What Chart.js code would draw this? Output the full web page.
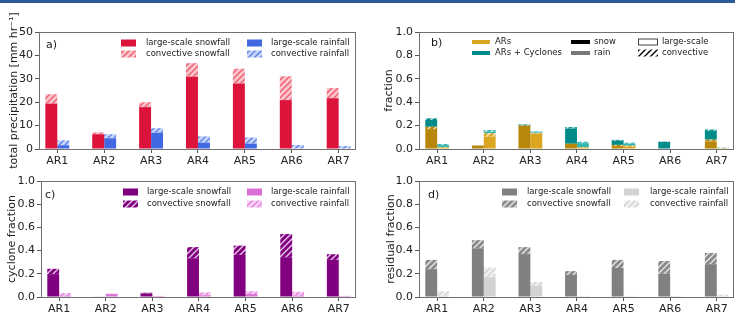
<!DOCTYPE html>
<html>
<head>
<meta charset="utf-8">
<script src="https://cdn.jsdelivr.net/npm/chart.js@4/dist/chart.umd.min.js"></script>
<style>
  body { margin: 0; background: #fff; width: 735px; height: 324px; overflow: hidden; position: relative; }
  #band { position: absolute; left: 0; top: 0; width: 735px; height: 3px; background: #2b5a94; }
  canvas { position: absolute; }
</style>
</head>
<body>
<div id="band"></div>
<canvas id="ca" width="365" height="170" style="left:0;top:0"></canvas>
<canvas id="cb" width="370" height="170" style="left:365px;top:0"></canvas>
<canvas id="cc" width="365" height="159" style="left:0;top:165px"></canvas>
<canvas id="cd" width="370" height="159" style="left:365px;top:165px"></canvas>
<script>
const categories = ['AR1', 'AR2', 'AR3', 'AR4', 'AR5', 'AR6', 'AR7'];

// a) total precipitation [mm/hr], stacked pieces
const totLsSnow = [19.4, 6.3, 17.9, 30.9, 28.0, 20.9, 21.7];
const totCvSnow = [4.0, 0.8, 2.1, 5.8, 6.3, 10.2, 4.4];
const totLsRain = [1.6, 4.6, 7.0, 2.7, 2.3, 0.0, 0.0];
const totCvRain = [2.1, 1.7, 1.9, 2.7, 2.6, 1.7, 1.3];

// b) fraction, ARs and ARs + cyclones (pieces stacked in that order)
const arLsSnow = [0.170, 0.030, 0.200, 0.045, 0.025, 0.000, 0.065];
const arCvSnow = [0.020, 0.000, 0.000, 0.000, 0.010, 0.000, 0.015];
const cyLsSnow = [0.058, 0.000, 0.000, 0.130, 0.035, 0.060, 0.075];
const cyCvSnow = [0.014, 0.000, 0.010, 0.012, 0.008, 0.003, 0.012];
const arLsRain = [0.010, 0.106, 0.130, 0.012, 0.018, 0.000, 0.004];
const arCvRain = [0.005, 0.028, 0.005, 0.003, 0.010, 0.000, 0.004];
const cyLsRain = [0.018, 0.013, 0.006, 0.035, 0.016, 0.000, 0.000];
const cyCvRain = [0.010, 0.015, 0.010, 0.012, 0.010, 0.000, 0.004];

// c) cyclone fraction
const cycLsSnow = [0.197, 0.005, 0.030, 0.334, 0.363, 0.343, 0.320];
const cycCvSnow = [0.046, 0.000, 0.007, 0.096, 0.080, 0.200, 0.049];
const cycLsRain = [0.012, 0.025, 0.008, 0.015, 0.025, 0.012, 0.008];
const cycCvRain = [0.022, 0.005, 0.002, 0.025, 0.025, 0.033, 0.002];

// d) residual fraction
const resLsSnow = [0.240, 0.420, 0.370, 0.190, 0.250, 0.200, 0.283];
const resCvSnow = [0.080, 0.070, 0.060, 0.033, 0.070, 0.110, 0.097];
const resLsRain = [0.012, 0.170, 0.100, 0.004, 0.004, 0.002, 0.008];
const resCvRain = [0.038, 0.084, 0.030, 0.006, 0.006, 0.003, 0.012];

Chart.defaults.font.family = '"DejaVu Sans", sans-serif';
Chart.defaults.color = '#222';

function hatch(base, line) {
    const c = document.createElement('canvas');
    c.width = 6; c.height = 6;
    const g = c.getContext('2d');
    g.fillStyle = base;
    g.fillRect(0, 0, 6, 6);
    g.strokeStyle = line;
    g.lineWidth = 1.4;
    g.beginPath();
    g.moveTo(-1, 7); g.lineTo(7, -1);
    g.moveTo(-4, 4); g.lineTo(4, -4);
    g.moveTo(2, 10); g.lineTo(10, 2);
    g.stroke();
    return g.createPattern(c, 'repeat');
}

function pts(arr) {
    return arr.map((v, i) => ({ x: i, y: v }));
}

function ds(label, arr, color, stack) {
    return { label: label, data: pts(arr), backgroundColor: color, stack: stack, borderWidth: 0 };
}

// axes box + hand drawn legend (matplotlib style, inside the axes)
const decor = {
    id: 'decor',
    afterDatasetsDraw(chart) {
        const ctx = chart.ctx, a = chart.chartArea;
        ctx.save();
        ctx.strokeStyle = '#707070';
        ctx.lineWidth = 1;
        ctx.strokeRect(Math.round(a.left) + 0.5, Math.round(a.top) + 0.5,
            Math.round(a.right - a.left) - 1, Math.round(a.bottom - a.top));
        ctx.restore();
    },
    afterDraw(chart, args, opts) {
        const ctx = chart.ctx;
        ctx.save();
        ctx.textBaseline = 'middle';
        ctx.fillStyle = '#1a1a1a';
        ctx.font = '11px "DejaVu Sans"';
        ctx.fillText(opts.tag, opts.tagX, opts.tagY);
        ctx.font = '8.5px "DejaVu Sans"';
        (opts.items || []).forEach(it => {
            if (it.kind === 'line') {
                ctx.fillStyle = it.fill;
                ctx.fillRect(it.x, it.y - 2, it.w, 4);
            } else {
                ctx.fillStyle = it.fill;
                ctx.fillRect(it.x, it.y - 3.5, it.w, 7);
                if (it.stroke) {
                    ctx.strokeStyle = it.stroke;
                    ctx.lineWidth = 1;
                    ctx.strokeRect(it.x + 0.5, it.y - 3, it.w - 1, 6);
                }
            }
            ctx.fillStyle = '#1a1a1a';
            ctx.fillText(it.text, it.tx, it.y);
        });
        ctx.restore();
    }
};

function makeChart(id, datasets, cfg) {
    return new Chart(document.getElementById(id), {
        type: 'bar',
        data: { datasets: datasets },
        plugins: [decor],
        options: {
            responsive: false,
            animation: false,
            categoryPercentage: 0.51,
            barPercentage: 1,
            layout: { padding: { top: cfg.top, right: cfg.right, left: 0, bottom: 0 } },
            plugins: {
                legend: { display: false },
                tooltip: { enabled: false },
                decor: { tag: cfg.tag, tagX: cfg.tagX, tagY: cfg.tagY, items: cfg.items }
            },
            scales: {
                x: {
                    type: 'linear',
                    offset: false,
                    stacked: true,
                    min: -0.39,
                    max: 6.37,
                    afterBuildTicks: s => { s.ticks = categories.map((c, i) => ({ value: i })); },
                    afterFit: s => { s.height = cfg.xh; },
                    ticks: { callback: v => categories[v], font: { size: 11 }, padding: 2, maxRotation: 0, autoSkip: false },
                    grid: { offset: false, drawOnChartArea: false, tickLength: 4, color: '#555' },
                    border: { display: false }
                },
                y: {
                    stacked: true,
                    min: 0,
                    max: cfg.ymax,
                    afterFit: s => { s.width = cfg.yw; },
                    ticks: { stepSize: cfg.step, callback: cfg.fmt, font: { size: 11 }, padding: 2 },
                    grid: { drawOnChartArea: false, tickLength: 4, color: '#555' },
                    border: { display: false },
                    title: { display: true, text: cfg.title, font: { size: 11 }, padding: { top: cfg.tpad, bottom: 0 } }
                }
            }
        }
    });
}

function legend4(c1, c2, t1, t2, y1, y2, items) {
    return [
        { x: c1, w: 15, y: y1, fill: items[0], text: 'large-scale snowfall', tx: t1 },
        { x: c1, w: 15, y: y2, fill: items[1], text: 'convective snowfall', tx: t1 },
        { x: c2, w: 15, y: y1, fill: items[2], text: 'large-scale rainfall', tx: t2 },
        { x: c2, w: 15, y: y2, fill: items[3], text: 'convective rainfall', tx: t2 }
    ];
}

// a)
const aCv1 = hatch('#f9c4ca', '#ec5d70'), aCv2 = hatch('#c6d4f8', '#5b82ea');
makeChart('ca', [
    ds('large-scale snowfall', totLsSnow, '#dc143c', 'snow'),
    ds('convective snowfall', totCvSnow, aCv1, 'snow'),
    ds('large-scale rainfall', totLsRain, '#4169e1', 'rain'),
    ds('convective rainfall', totCvRain, aCv2, 'rain')
], {
    top: 32, right: 9, yw: 39, xh: 21, ymax: 50, step: 10, fmt: v => v,
    title: 'total precipitation [mm hr\u207B\u00B9]', tpad: 8,
    tag: 'a)', tagX: 46, tagY: 45,
    items: legend4(121, 247, 146, 271, 43, 54, ['#dc143c', aCv1, '#4169e1', aCv2])
});

// b)
const gS = '#b8860b', gR = '#daa520', tS = '#008b8b', tR = '#33b5b0';
makeChart('cb', [
    ds('ARs large-scale snow', arLsSnow, gS, 'snow'),
    ds('ARs convective snow', arCvSnow, hatch(gS, '#f3e3bd'), 'snow'),
    ds('ARs + Cyclones large-scale snow', cyLsSnow, tS, 'snow'),
    ds('ARs + Cyclones convective snow', cyCvSnow, hatch(tS, '#c4ecec'), 'snow'),
    ds('ARs large-scale rain', arLsRain, gR, 'rain'),
    ds('ARs convective rain', arCvRain, hatch(gR, '#fbefcc'), 'rain'),
    ds('ARs + Cyclones large-scale rain', cyLsRain, tR, 'rain'),
    ds('ARs + Cyclones convective rain', cyCvRain, hatch(tR, '#d8f3f1'), 'rain')
], {
    top: 32, right: 1, yw: 54, xh: 21, ymax: 1, step: 0.2, fmt: v => v.toFixed(1),
    title: 'fraction', tpad: 18,
    tag: 'b)', tagX: 66, tagY: 43,
    items: [
        { kind: 'line', x: 107, w: 18, y: 42, fill: gR, text: 'ARs', tx: 130 },
        { kind: 'line', x: 107, w: 18, y: 53, fill: tS, text: 'ARs + Cyclones', tx: 130 },
        { kind: 'line', x: 206, w: 19, y: 42, fill: '#000', text: 'snow', tx: 229 },
        { kind: 'line', x: 206, w: 19, y: 53, fill: '#777', text: 'rain', tx: 229 },
        { x: 273, w: 20, y: 42, fill: '#fff', stroke: '#444', text: 'large-scale', tx: 297 },
        { x: 273, w: 20, y: 53, fill: hatch('#fff', '#000'), text: 'convective', tx: 297 }
    ]
});

// c)
const cCv1 = hatch('#800080', '#e8c8e8'), cCv2 = hatch('#f8d0f5', '#e27fdd');
makeChart('cc', [
    ds('large-scale snowfall', cycLsSnow, '#800080', 'snow'),
    ds('convective snowfall', cycCvSnow, cCv1, 'snow'),
    ds('large-scale rainfall', cycLsRain, '#da70d6', 'rain'),
    ds('convective rainfall', cycCvRain, cCv2, 'rain')
], {
    top: 16, right: 9, yw: 41, xh: 27, ymax: 1, step: 0.2, fmt: v => v.toFixed(1),
    title: 'cyclone fraction', tpad: 6,
    tag: 'c)', tagX: 45, tagY: 30,
    items: legend4(123, 247, 147, 271, 27, 39, ['#800080', cCv1, '#da70d6', cCv2])
});

// d)
const dCv1 = hatch('#8a8a8a', '#e6e6e6'), dCv2 = hatch('#f2f2f2', '#cfcfcf');
makeChart('cd', [
    ds('large-scale snowfall', resLsSnow, '#808080', 'snow'),
    ds('convective snowfall', resCvSnow, dCv1, 'snow'),
    ds('large-scale rainfall', resLsRain, '#d3d3d3', 'rain'),
    ds('convective rainfall', resCvRain, dCv2, 'rain')
], {
    top: 16, right: 1, yw: 54, xh: 27, ymax: 1, step: 0.2, fmt: v => v.toFixed(1),
    title: 'residual fraction', tpad: 20,
    tag: 'd)', tagX: 63, tagY: 30,
    items: legend4(137, 259, 162, 285, 27, 39, ['#808080', dCv1, '#d3d3d3', dCv2])
});
</script>
</body>
</html>
